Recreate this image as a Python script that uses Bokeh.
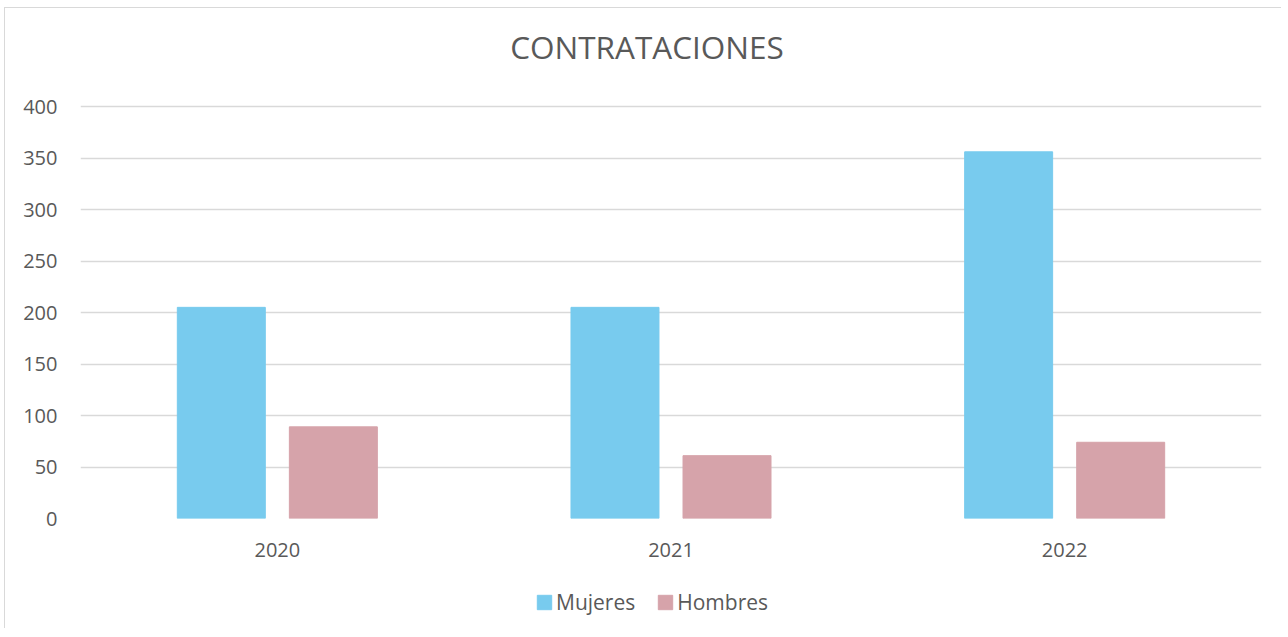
from bokeh.plotting import figure
from bokeh.models import (FactorRange, Range1d, Legend, LegendItem, ColumnDataSource,
                          FixedTicker, Label)
from bokeh.layouts import column
from bokeh.transform import dodge
from bokeh.embed import file_html
from bokeh.resources import INLINE

title_text = "CONTRATACIONES"
years = ["2020", "2021", "2022"]
mujeres = [205, 205, 356]
hombres = [89, 61, 74]
y_ticks = [0, 50, 100, 150, 200, 250, 300, 350, 400]
series_names = ["Mujeres", "Hombres"]
colors = ["#78CBEE", "#D6A3AA"]

src = ColumnDataSource(dict(year=years, Mujeres=mujeres, Hombres=hombres))

FONT = "Open Sans"
GRAY = "#595959"

# frame: value axis 0..400 takes the lower 412 px; extra room above for the title
FRAME_H = 510
AXIS_H = 412
y_top = y_ticks[-1] * FRAME_H / AXIS_H

p = figure(x_range=FactorRange(*years), y_range=Range1d(0, y_top),
           frame_width=1181, frame_height=FRAME_H,
           min_border_left=75, min_border_right=20, min_border_top=0, min_border_bottom=60,
           output_backend="svg", toolbar_location=None)

bw = 0.2235
off = 0.1423
r1 = p.vbar(x=dodge("year", -off, range=p.x_range), top="Mujeres", width=bw, source=src,
            fill_color=colors[0], line_color=colors[0])
r2 = p.vbar(x=dodge("year", off, range=p.x_range), top="Hombres", width=bw, source=src,
            fill_color=colors[1], line_color=colors[1])

p.add_layout(Label(x=566.5, y=472, x_units="screen", y_units="screen", text=title_text,
                   text_align="center", text_baseline="middle", text_font=FONT,
                   text_font_size="31.5px", text_color=GRAY))

p.outline_line_color = None
p.xgrid.grid_line_color = None
p.ygrid.grid_line_color = "#D9D9D9"
p.ygrid.grid_line_width = 1.5
p.yaxis.ticker = FixedTicker(ticks=y_ticks)

for ax in (p.xaxis, p.yaxis):
    ax.axis_line_color = None
    ax.major_tick_line_color = None
    ax.minor_tick_line_color = None
    ax.major_label_text_font = FONT
    ax.major_label_text_font_size = "20px"
    ax.major_label_text_color = GRAY
p.yaxis.major_label_standoff = 17
p.xaxis.major_label_standoff = 18

# legend strip below the chart (same series, drawn outside its visible range)
p2 = figure(width=1276, height=50, x_range=p.x_range, y_range=Range1d(1000, 1001),
            min_border=0, output_backend="svg", toolbar_location=None,
            x_axis_type=None, y_axis_type=None)
p2.outline_line_color = None
p2.xgrid.grid_line_color = None
p2.ygrid.grid_line_color = None
e1 = p2.vbar(x=dodge("year", -off, range=p.x_range), top="Mujeres", width=bw, source=src,
             fill_color=colors[0], line_color=colors[0])
e2 = p2.vbar(x=dodge("year", off, range=p.x_range), top="Hombres", width=bw, source=src,
             fill_color=colors[1], line_color=colors[1])
legend = Legend(items=[LegendItem(label=series_names[0], renderers=[e1]),
                       LegendItem(label=series_names[1], renderers=[e2])],
                orientation="horizontal", location=(455, 12),
                glyph_width=18, glyph_height=18, label_height=14,
                label_text_font=FONT, label_text_font_size="21px", label_text_color=GRAY,
                label_text_baseline="alphabetic",
                label_standoff=3, spacing=21, border_line_color=None,
                background_fill_alpha=0, padding=0, margin=0)
p2.add_layout(legend, "center")

layout = column(p, p2, spacing=0)
layout.styles = {"border-left": "1px solid #D9D9D9", "border-top": "1px solid #D9D9D9",
                 "margin-left": "4px", "margin-top": "7px"}

open("out.html", "w").write(file_html(layout, INLINE))
